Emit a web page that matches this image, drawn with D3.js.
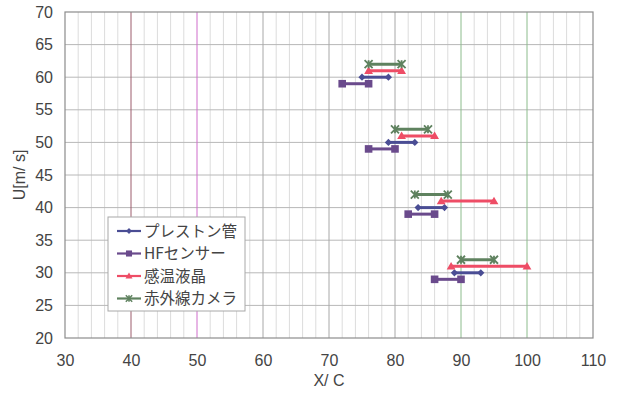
<!DOCTYPE html>
<html>
<head>
<meta charset="utf-8">
<script src="https://cdn.jsdelivr.net/npm/d3@7/dist/d3.min.js"></script>
<style>
  html, body { margin: 0; padding: 0; background: #fff; }
  svg { display: block; }
  text { font-family: "Liberation Sans", Arial, sans-serif; fill: #444; }
</style>
</head>
<body>
<svg id="chart" width="623" height="395"></svg>
<script>
// Measured velocity U [m/s] and the X/C range reported by each method
const seriesNames = ["プレストン管", "HFセンサー", "感温液晶", "赤外線カメラ"];
const prestonU = [60, 50, 40, 30];
const prestonX = [[75, 79], [79, 83], [83.5, 87.5], [89, 93]];
const hfU = [59, 49, 39, 29];
const hfX = [[72, 76], [76, 80], [82, 86], [86, 90]];
const lcU = [61, 51, 41, 31];
const lcX = [[76, 81], [81, 86], [87, 95], [88.5, 100]];
const irU = [62, 52, 42, 32];
const irX = [[76, 81], [80, 85], [83, 88], [90, 95]];

const xTicks = [30, 40, 50, 60, 70, 80, 90, 100, 110];
const yTicks = [20, 25, 30, 35, 40, 45, 50, 55, 60, 65, 70];
const xMinor = d3.range(30, 111, 2);

const series = [
  { name: seriesNames[0], u: prestonU, x: prestonX, color: "#4a4d94", marker: "diamond" },
  { name: seriesNames[1], u: hfU, x: hfX, color: "#6a4a8c", marker: "square" },
  { name: seriesNames[2], u: lcU, x: lcX, color: "#ee4d66", marker: "triangle" },
  { name: seriesNames[3], u: irU, x: irX, color: "#5f825f", marker: "star" }
];

const svg = d3.select("#chart");
const mLeft = 65, mRight = 593, mTop = 12, mBottom = 338;
const x = d3.scaleLinear().domain([30, 110]).range([mLeft, mRight]);
const y = d3.scaleLinear().domain([20, 70]).range([mBottom, mTop]);

// minor vertical grid
svg.append("g").selectAll("line").data(xMinor.filter(v => v % 10 !== 0)).join("line")
  .attr("x1", d => x(d)).attr("x2", d => x(d))
  .attr("y1", mTop).attr("y2", mBottom)
  .attr("stroke", "#dcdcdc").attr("stroke-width", 1);

// horizontal grid
svg.append("g").selectAll("line").data(yTicks.slice(1, -1)).join("line")
  .attr("x1", mLeft).attr("x2", mRight)
  .attr("y1", d => y(d)).attr("y2", d => y(d))
  .attr("stroke", "#b8b8b8").attr("stroke-width", 1);

// major vertical grid
const majorColor = { 40: "#9c5c6c", 50: "#cf6ccb", 60: "#a8a8a8", 70: "#a8a8a8", 80: "#a8a8a8", 90: "#8cbc8c", 100: "#8cbc8c" };
svg.append("g").selectAll("line").data(xTicks.slice(1, -1)).join("line")
  .attr("x1", d => x(d)).attr("x2", d => x(d))
  .attr("y1", mTop).attr("y2", mBottom)
  .attr("stroke", d => majorColor[d]).attr("stroke-width", 1);

// frame
svg.append("rect").attr("x", mLeft).attr("y", mTop)
  .attr("width", mRight - mLeft).attr("height", mBottom - mTop)
  .attr("fill", "none").attr("stroke", "#8c8c8c").attr("stroke-width", 1.2);

// axes labels
const xAxis = d3.axisBottom(x).tickValues(xTicks).tickSize(0).tickPadding(17);
const gx = svg.append("g").attr("transform", `translate(0,${mBottom})`).call(xAxis);
gx.select(".domain").remove();
gx.selectAll("text").attr("font-size", 16).attr("fill", "#444")
  .style("font-family", "'Liberation Sans', Arial, sans-serif");

const yAxis = d3.axisLeft(y).tickValues(yTicks).tickSize(0).tickPadding(12);
const gy = svg.append("g").attr("transform", `translate(${mLeft},0)`).call(yAxis);
gy.select(".domain").remove();
gy.selectAll("text").attr("font-size", 16).attr("fill", "#444")
  .style("font-family", "'Liberation Sans', Arial, sans-serif");

svg.append("text").attr("x", (mLeft + mRight) / 2).attr("y", 386)
  .attr("text-anchor", "middle").attr("font-size", 16).text("X/ C");
svg.append("text").attr("transform", `translate(25,${(mTop + mBottom) / 2}) rotate(-90)`)
  .attr("text-anchor", "middle").attr("font-size", 16).text("U[m/ s]");

// markers
function markerPath(type, s) {
  if (type === "diamond") return `M0,${-s}L${s},0L0,${s}L${-s},0Z`;
  if (type === "square") return `M${-s},${-s}H${s}V${s}H${-s}Z`;
  if (type === "triangle") return `M0,${-s * 1.1}L${s * 1.1},${s * 0.8}L${-s * 1.1},${s * 0.8}Z`;
  return `M${-s},${-s}L${s},${s}M${-s},${s}L${s},${-s}M0,${-s}V${s}`;
}
const markerSize = { diamond: 3.6, square: 3.8, triangle: 4, star: 4 };

const plot = svg.append("g");
series.forEach(s => {
  const g = plot.append("g");
  s.u.forEach((u, i) => {
    const [a, b] = s.x[i];
    g.append("line")
      .attr("x1", x(a)).attr("x2", x(b))
      .attr("y1", y(u)).attr("y2", y(u))
      .attr("stroke", s.color).attr("stroke-width", 3);
    [a, b].forEach(v => {
      const p = g.append("path")
        .attr("d", markerPath(s.marker, markerSize[s.marker]))
        .attr("transform", `translate(${x(v)},${y(u)})`);
      if (s.marker === "star") p.attr("fill", "none").attr("stroke", s.color).attr("stroke-width", 1.8);
      else p.attr("fill", s.color);
    });
  });
});

// legend
const lg = svg.append("g").attr("transform", "translate(108,217)");
lg.append("rect").attr("width", 137).attr("height", 94)
  .attr("fill", "#fff").attr("stroke", "#a8a8a8").attr("stroke-width", 1);
series.forEach((s, i) => {
  const yy = 14 + i * 22.5;
  lg.append("line").attr("x1", 9).attr("x2", 33).attr("y1", yy).attr("y2", yy)
    .attr("stroke", s.color).attr("stroke-width", 2.2);
  const p = lg.append("path")
    .attr("d", markerPath(s.marker, markerSize[s.marker] * 0.8))
    .attr("transform", `translate(21,${yy})`);
  if (s.marker === "star") p.attr("fill", "none").attr("stroke", s.color).attr("stroke-width", 1.5);
  else p.attr("fill", s.color);
  lg.append("text").attr("x", 36).attr("y", yy + 5.5)
    .attr("font-size", 15.5)
    .style("font-family", "'Noto Sans CJK JP', sans-serif")
    .text(s.name);
});
</script>
</body>
</html>
